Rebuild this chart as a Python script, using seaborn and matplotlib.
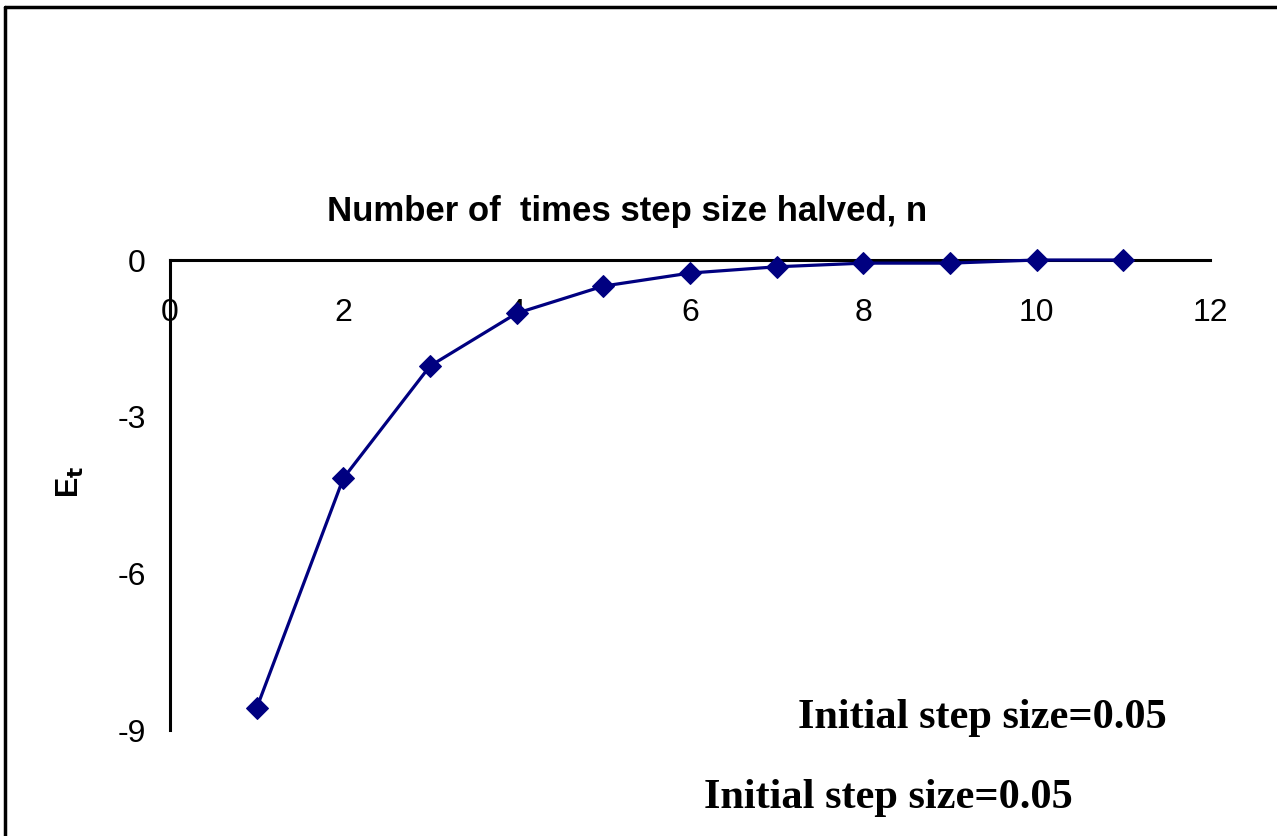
import numpy as np
import pandas as pd
import seaborn as sns
from matplotlib import pyplot as plt
from matplotlib.lines import Line2D

# data
n_halved = [1, 2, 3, 4, 5, 6, 7, 8, 9, 10, 11]
e_t = [-8.58, -4.18, -2.03, -1.02, -0.50, -0.25, -0.13, -0.06, -0.06, 0.0, 0.0]
x_ticks = [0, 2, 4, 6, 8, 10, 12]
y_ticks = [0, -3, -6, -9]

df = pd.DataFrame({'n': n_halved, 'Et': e_t})

sns.set_style('white')
plt.rcParams['font.family'] = ['Liberation Sans', 'DejaVu Sans']
plt.rcParams['text.color'] = 'black'
plt.rcParams['xtick.color'] = 'black'
plt.rcParams['ytick.color'] = 'black'

W, H = 1277, 836
fig = plt.figure(figsize=(W / 100, H / 100), dpi=100)
ax = fig.add_axes([170 / W, 1 - 730 / H, 1040 / W, 470 / H])

sns.lineplot(data=df, x='n', y='Et', ax=ax, color='#000080', marker='D',
             markersize=11.5, markeredgecolor='#000080', linewidth=2.3,
             clip_on=False)

ax.set_xlim(0, 12)
ax.set_ylim(-9, 0)
ax.set_xticks(x_ticks)
ax.set_yticks(y_ticks)
ax.set_xticklabels([str(t) for t in x_ticks])
ax.set_yticklabels([str(t) for t in y_ticks])

ax.spines['bottom'].set_position(('data', 0))
ax.spines['top'].set_visible(False)
ax.spines['right'].set_visible(False)
for s in ['bottom', 'left']:
    ax.spines[s].set_linewidth(2.2)
    ax.spines[s].set_color('black')
ax.spines['bottom'].set_zorder(1)

ax.tick_params(axis='x', direction='out', length=6.5, width=2, pad=21, labelsize=23,
               labelcolor='black')
ax.tick_params(axis='y', direction='out', length=6.5, width=2, pad=11, labelsize=23,
               labelcolor='black')
ax.set_xlabel('')
ax.set_ylabel('')

fig.text(627 / W, 1 - 212 / H, 'Number of  times step size halved, n',
         ha='center', va='center', fontsize=25, fontweight='bold')
fig.text(70 / W, 1 - 482 / H, r'E$_\mathbf{t}$', rotation=90,
         ha='center', va='center', fontsize=22, fontweight='bold')

fig.text(982 / W, 1 - 718 / H, 'Initial step size=0.05', ha='center', va='center',
         fontsize=30.5, fontweight='bold', family='Liberation Serif')
fig.text(888 / W, 1 - 798 / H, 'Initial step size=0.05', ha='center', va='center',
         fontsize=30.5, fontweight='bold', family='Liberation Serif')

# outer chart frame (only top and left edges are inside the picture)
fig.add_artist(Line2D([5 / W, 1], [1 - 7 / H, 1 - 7 / H], color='black', linewidth=2.5,
                      transform=fig.transFigure))
fig.add_artist(Line2D([5 / W, 5 / W], [1 - 7 / H, 0], color='black', linewidth=2.5,
                      transform=fig.transFigure))

fig.savefig('out.png', dpi=100)
